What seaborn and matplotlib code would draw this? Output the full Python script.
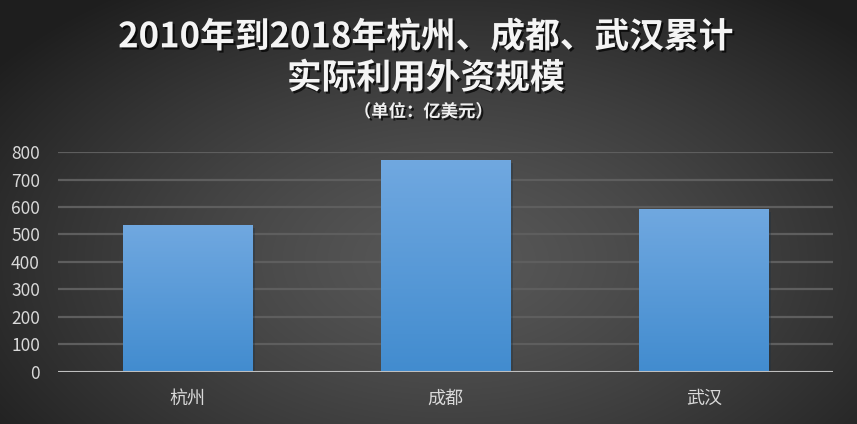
import numpy as np
import pandas as pd
import matplotlib
matplotlib.use('Agg')
import matplotlib.pyplot as plt
import matplotlib.patheffects as pe
import seaborn as sns

# data (100 million USD)
cities = ['杭州', '成都', '武汉']
values = [534, 771, 592]
y_ticks = [0, 100, 200, 300, 400, 500, 600, 700, 800]

title_1 = '2010年到2018年杭州、成都、武汉累计'
title_2 = '实际利用外资规模'
unit_text = '（单位：亿美元）'

sns.set_theme(style='dark')
plt.rcParams['font.family'] = ['Noto Sans CJK SC', 'DejaVu Sans']
plt.rcParams['axes.unicode_minus'] = False

df = pd.DataFrame({'city': cities, 'value': values})

fig = plt.figure(figsize=(8.57, 4.24), dpi=100)

# radial dark background
bg = fig.add_axes([0, 0, 1, 1], zorder=-10)
h, w = 424, 857
yy, xx = np.mgrid[0:h, 0:w]
d = np.sqrt(((xx - 450) / 560.0) ** 2 + ((yy - 260) / 330.0) ** 2)
d = np.clip(d, 0, 1)
shade = 0.345 - (0.345 - 0.12) * d ** 1.3
bg.imshow(np.dstack([shade, shade, shade]), aspect='auto', extent=[0, 1, 0, 1])
bg.set_axis_off()

ax = fig.add_axes([0.0677, 0.1233, 0.9043, 0.518])
ax.patch.set_alpha(0)

sns.barplot(data=df, x='city', y='value', color='#5b9bd5', width=0.5,
            saturation=1, ax=ax, zorder=3)

# vertical blue gradient on each bar
grad = np.linspace(0, 1, 100).reshape(-1, 1)
top = np.array([112, 168, 224]) / 255
bot = np.array([66, 140, 207]) / 255
grad_img = top + (bot - top) * grad[..., None]
for p in ax.patches:
    x0, y0 = p.get_x(), p.get_y()
    pw, ph = p.get_width(), p.get_height()
    p.set_edgecolor('none')
    p.set_path_effects([pe.withSimplePatchShadow(offset=(2, -2), alpha=0.35)])
    im = ax.imshow(grad_img.reshape(100, 1, 3), extent=[x0, x0 + pw, y0, y0 + ph],
                   aspect='auto', zorder=4, origin='upper')
    im.set_clip_path(p)

ax.set_xlim(-0.5, len(cities) - 0.5)
ax.set_ylim(0, 800)
ax.set_yticks(y_ticks)
ax.set_yticklabels([str(t) for t in y_ticks])
ax.set_xlabel('')
ax.set_ylabel('')

ax.grid(axis='y', color='#5e5e5e', linewidth=1.6, zorder=0)
ax.grid(axis='x', visible=False)
ax.set_axisbelow(True)
for s in ax.spines.values():
    s.set_visible(False)
ax.axhline(0, color='#bfbfbf', linewidth=2.2, zorder=5)

ax.tick_params(axis='y', colors='#d9d9d9', labelsize=12.5, length=0, pad=13)
ax.tick_params(axis='x', colors='#d9d9d9', labelsize=13, length=0, pad=13)

shadow = [pe.withSimplePatchShadow(offset=(1.5, -1.5), shadow_rgbFace='black', alpha=0.7)]
fig.text(0.497, 0.913, title_1, ha='center', va='center', color='#f4f4f4',
         fontsize=25, fontweight='bold', path_effects=shadow)
fig.text(0.497, 0.816, title_2, ha='center', va='center', color='#f4f4f4',
         fontsize=25, fontweight='bold', path_effects=shadow)
fig.text(0.494, 0.736, unit_text, ha='center', va='center', color='#f0f0f0',
         fontsize=12.5, fontweight='bold', path_effects=shadow)

fig.savefig('out.png', dpi=100)
